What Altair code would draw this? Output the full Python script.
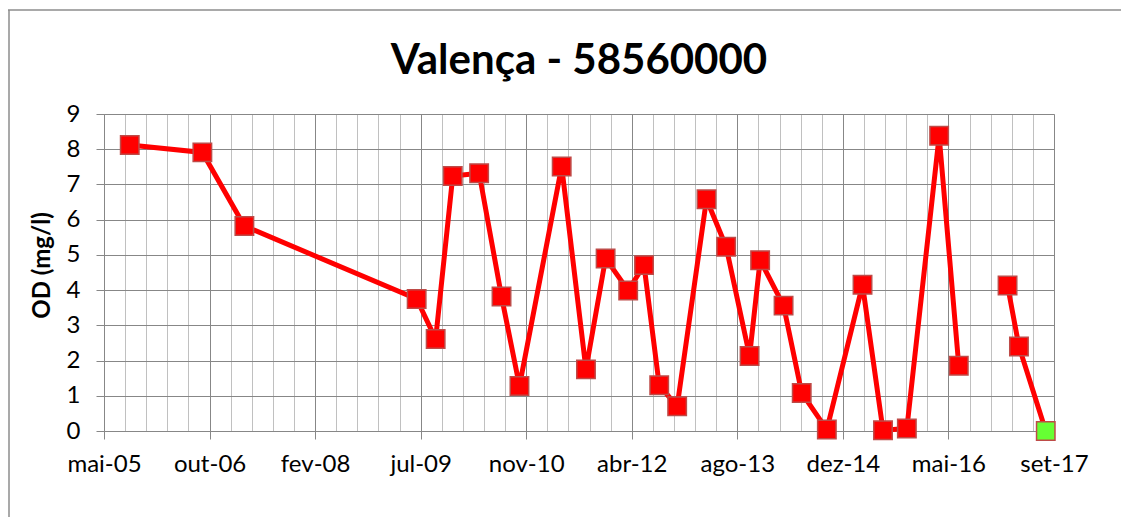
import altair as alt
import pandas as pd

# ---- data ----
datas = ["2005-09-28", "2006-09-07", "2007-03-25", "2009-06-18", "2009-09-16",
         "2009-12-06", "2010-04-10", "2010-07-25", "2010-10-18", "2011-05-06",
         "2011-08-29", "2011-11-30", "2012-03-16", "2012-05-30", "2012-08-10",
         "2012-11-03", "2013-03-22", "2013-06-23", "2013-10-12", "2013-12-01",
         "2014-03-22", "2014-06-16", "2014-10-13", "2015-03-31", "2015-07-06",
         "2015-10-27", "2016-03-28", "2016-06-29", "2017-02-15", "2017-04-10",
         "2017-08-15"]
od = [8.12, 7.91, 5.82, 3.75, 2.61, 7.24, 7.32, 3.82, 1.28, 7.51,
      1.75, 4.90, 3.99, 4.71, 1.30, 0.70, 6.58, 5.23, 2.13, 4.85,
      3.56, 1.08, 0.04, 4.15, 0.02, 0.07, 8.38, 1.85, 4.13, 2.40,
      0.00]
# line is interrupted between jun-16 and fev-17
trecho = [0] * 28 + [1] * 3
tick_labels = ["mai-05", "out-06", "fev-08", "jul-09", "nov-10",
               "abr-12", "ago-13", "dez-14", "mai-16", "set-17"]
y_ticks = [0, 1, 2, 3, 4, 5, 6, 7, 8, 9]
axis_start = "2005-05-29"
major_step_days = 500
minor_step_days = 100

df = pd.DataFrame({"data": datas, "od": od, "trecho": trecho})
df["ultimo"] = ["sim" if i == len(datas) - 1 else "nao" for i in range(len(datas))]

D0 = pd.Timestamp(axis_start)
def ms(ts):
    return int(ts.timestamp() * 1000)

T0 = ms(D0)
STEP = major_step_days * 86400000
major_vals = [ms(D0 + pd.Timedelta(days=major_step_days * k)) for k in range(len(tick_labels))]
n_minor = (len(tick_labels) - 1) * major_step_days // minor_step_days
minor_vals = [ms(D0 + pd.Timedelta(days=minor_step_days * k))
              for k in range(n_minor + 1) if (k * minor_step_days) % major_step_days != 0]
domain = [major_vals[0], major_vals[-1]]

FONT = "Lato"
GRID_DARK = "#878787"
GRID_LIGHT = "#C0C0C0"

labels_js = "[" + ",".join("'" + s + "'" for s in tick_labels) + "]"
label_expr = f"{labels_js}[round((datum.value - {T0}) / {STEP})]"

x_scale = alt.Scale(domain=domain, nice=False)
y_scale = alt.Scale(domain=[0, 9], nice=False)

y_axis = alt.Axis(values=y_ticks, title="OD (mg/l)", grid=True, gridColor=GRID_DARK,
                  gridWidth=1, domainColor=GRID_DARK, tickColor=GRID_DARK, tickSize=8,
                  labelFontSize=24, labelColor="black", labelFont=FONT, labelPadding=16,
                  labelOverlap=False, labelFlush=False,
                  titleFont=FONT, titleFontSize=24, titleFontWeight="bold", titleColor="black",
                  titleX=-62, titleY=151, titleAngle=270, titleBaseline="middle", titleAlign="center")

x_axis_minor = alt.Axis(values=minor_vals, orient="bottom", grid=True, gridColor=GRID_LIGHT,
                        gridWidth=1, labels=False, ticks=False, domain=False, title=None)
x_axis_major = alt.Axis(values=major_vals, orient="bottom", grid=True, gridColor=GRID_DARK,
                        gridWidth=1, domainColor=GRID_DARK, tickColor=GRID_DARK, tickSize=8,
                        labelExpr=label_expr, labelFontSize=24, labelColor="black",
                        labelFont=FONT, labelPadding=13, labelFlush=False, labelOverlap=False,
                        title=None)

base = alt.Chart(df)

linha = base.mark_line(color="#FF0000", strokeWidth=5).encode(
    x=alt.X("data:T", scale=x_scale, axis=x_axis_minor),
    y=alt.Y("od:Q", scale=y_scale, axis=y_axis),
    detail="trecho:N",
)

pontos = base.mark_point(shape="square", filled=True, size=340, opacity=1,
                         stroke="#BE4B48", strokeWidth=1.5).encode(
    x=alt.X("data:T", scale=x_scale, axis=x_axis_major),
    y=alt.Y("od:Q", scale=y_scale, axis=y_axis),
    fill=alt.Fill("ultimo:N", scale=alt.Scale(domain=["nao", "sim"], range=["#FF0000", "#66FF33"]),
                  legend=None),
)

borda = alt.Chart(alt.Data(values=[{}]))
borda_top = borda.mark_rule(color="#8C8C8C", strokeWidth=1.5).encode(
    x=alt.value(-96), x2=alt.value(1020), y=alt.value(-104))
borda_left = borda.mark_rule(color="#8C8C8C", strokeWidth=1.5).encode(
    x=alt.value(-95), y=alt.value(-104), y2=alt.value(410))

chart = alt.layer(linha, pontos, borda_top, borda_left).resolve_axis(x="independent").properties(
    width=950, height=317,
    title=alt.TitleParams("Valença - 58560000", font=FONT, fontSize=42, fontWeight="bold",
                          color="black", anchor="middle", offset=0, baseline="alphabetic", dy=107),
    autosize=alt.AutoSizeParams(type="none"),
    padding={"left": 96, "top": 106, "right": 67, "bottom": 86},
).configure_view(stroke=None).configure(background="white")

chart.save("out.html", embed_options={"renderer": "svg", "actions": False})
